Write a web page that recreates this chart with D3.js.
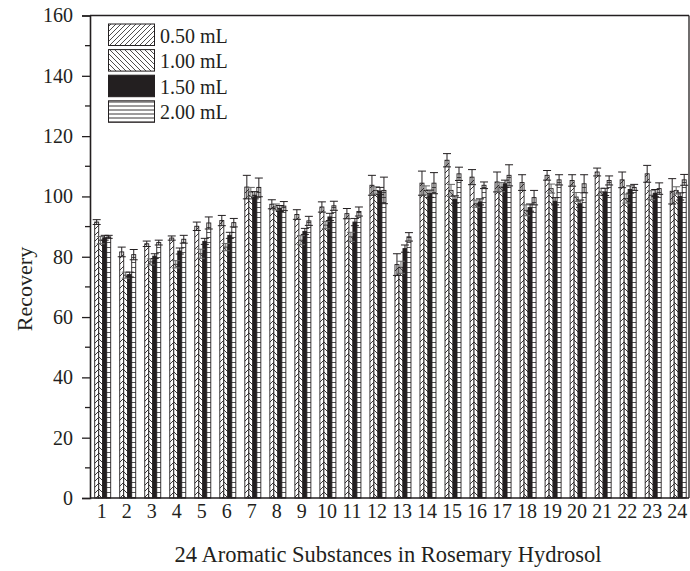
<!DOCTYPE html>
<html>
<head>
<meta charset="utf-8">
<script src="https://cdn.jsdelivr.net/npm/d3@7/dist/d3.min.js"></script>
<style>
  html, body { margin: 0; padding: 0; background: #fff; }
  svg text { font-family: "Liberation Serif", "Times New Roman", serif; fill: #231f20; }
</style>
</head>
<body>
<svg id="chart" width="690" height="571"></svg>
<script>
const categories = d3.range(1, 25).map(String);
const seriesNames = ["0.50 mL", "1.00 mL", "1.50 mL", "2.00 mL"];
const v050 = [91.5, 81.6, 84.3, 86.2, 90.1, 92.0, 103.1, 97.4, 94.0, 96.5, 94.3, 103.7, 77.4, 104.4, 112.0, 106.4, 104.8, 104.6, 107.0, 105.3, 108.1, 105.5, 107.5, 101.7];
const e050 = [0.8, 1.6, 0.9, 0.7, 1.4, 1.7, 3.9, 1.5, 1.6, 1.7, 1.7, 3.3, 3.6, 4.0, 2.2, 2.5, 3.3, 2.6, 1.6, 1.9, 1.3, 2.6, 2.8, 4.2];
const v100 = [85.5, 73.9, 78.3, 77.5, 81.0, 83.2, 101.5, 96.5, 85.5, 90.5, 86.6, 102.0, 76.5, 102.0, 102.0, 97.6, 103.1, 95.4, 102.6, 99.8, 101.5, 99.3, 100.4, 102.0];
const e100 = [1.2, 1.0, 1.0, 1.2, 1.5, 1.2, 1.5, 1.0, 1.5, 1.2, 1.5, 1.2, 2.0, 1.5, 2.0, 1.2, 1.5, 1.8, 1.5, 1.5, 1.2, 1.5, 1.5, 1.2];
const v150 = [86.3, 74.1, 80.2, 81.9, 85.1, 87.1, 100.4, 96.0, 88.4, 93.2, 91.5, 101.8, 82.7, 100.9, 99.0, 98.2, 104.2, 96.3, 98.4, 97.6, 101.5, 102.3, 101.1, 100.0];
const e150 = [0.8, 0.8, 0.8, 1.0, 1.0, 1.0, 1.2, 1.0, 1.0, 1.2, 1.2, 1.2, 1.2, 1.2, 1.2, 1.0, 1.2, 1.2, 1.2, 1.2, 1.2, 1.2, 1.2, 1.2];
const v200 = [86.6, 80.7, 84.7, 85.8, 91.2, 91.3, 103.0, 96.8, 91.9, 96.9, 95.0, 102.0, 86.6, 104.4, 107.5, 103.7, 107.0, 99.6, 105.5, 104.2, 105.3, 103.0, 102.6, 105.5];
const e200 = [0.5, 1.7, 0.8, 1.3, 2.0, 1.4, 3.1, 1.5, 1.5, 1.5, 1.5, 4.4, 1.4, 3.5, 2.2, 1.1, 3.5, 2.4, 1.7, 3.0, 1.5, 1.0, 1.9, 1.8];
const yTicks = [0, 20, 40, 60, 80, 100, 120, 140, 160];
const yTitle = "Recovery";
const xTitle = "24 Aromatic Substances in Rosemary Hydrosol";

(function () {
const values = [v050, v100, v150, v200];
const errors = [e050, e100, e150, e200];
const fills = ["url(#pFwd)", "url(#pBack)", "#231f20", "url(#pHor)"];
const legendFills = ["url(#lFwd)", "url(#lBack)", "#231f20", "url(#lHor)"];

const svg = d3.select("#chart");
const mLeft = 90, mRight = 689, mTop = 15.5, mBottom = 498;

const x = d3.scalePoint().domain(categories).range([102.7, 678.2]);
const xs = d3.scaleBand().domain(seriesNames).range([-8, 8]).padding(0);
const y = d3.scaleLinear().domain([0, 160]).range([mBottom, mTop]);

const defs = svg.append("defs");
function linePattern(id, size, lines, stroke, sw) {
  const p = defs.append("pattern").attr("id", id).attr("patternUnits", "userSpaceOnUse")
    .attr("width", size).attr("height", size);
  p.append("rect").attr("width", size).attr("height", size).attr("fill", "#fff");
  lines.forEach(l => p.append("line").attr("x1", l[0]).attr("y1", l[1]).attr("x2", l[2]).attr("y2", l[3])
    .attr("stroke", stroke).attr("stroke-width", sw));
}
linePattern("pFwd", 6, [[0, 6, 6, 0], [-1, 1, 1, -1], [5, 7, 7, 5]], "#231f20", 0.9);
linePattern("pBack", 6, [[0, 0, 6, 6], [-1, 5, 1, 7], [5, -1, 7, 1]], "#231f20", 0.9);
linePattern("pHor", 5, [[0, 2.5, 5, 2.5]], "#555", 1);
linePattern("lFwd", 5, [[0, 5, 5, 0], [-1, 1, 1, -1], [4, 6, 6, 4]], "#231f20", 0.8);
linePattern("lBack", 5, [[0, 0, 5, 5], [-1, 4, 1, 6], [4, -1, 6, 1]], "#231f20", 0.8);
linePattern("lHor", 4, [[0, 2, 4, 2]], "#231f20", 0.9);

const g = svg.append("g");
seriesNames.forEach((s, si) => {
  g.append("g").selectAll("rect").data(categories).join("rect")
    .attr("x", (c) => x(c) + xs(s))
    .attr("y", (c, i) => y(values[si][i]))
    .attr("width", xs.bandwidth())
    .attr("height", (c, i) => mBottom - y(values[si][i]))
    .attr("fill", fills[si])
    .attr("stroke", "#231f20")
    .attr("stroke-width", 0.9);
});
seriesNames.forEach((s, si) => {
  const eg = g.append("g").attr("stroke", si === 1 ? "#666" : "#231f20").attr("stroke-width", 1);
  categories.forEach((c, i) => {
    const cx = x(c) + xs(s) + xs.bandwidth() / 2;
    const hi = y(values[si][i] + errors[si][i]);
    const lo = y(values[si][i] - errors[si][i]);
    eg.append("line").attr("x1", cx).attr("x2", cx).attr("y1", hi).attr("y2", lo);
    eg.append("line").attr("x1", cx - 4).attr("x2", cx + 4).attr("y1", hi).attr("y2", hi);
    eg.append("line").attr("x1", cx - 4).attr("x2", cx + 4).attr("y1", lo).attr("y2", lo);
  });
});

svg.append("line").attr("x1", mLeft).attr("x2", mRight).attr("y1", mTop).attr("y2", mTop)
  .attr("stroke", "#231f20").attr("stroke-width", 1.3);
svg.append("line").attr("x1", mRight).attr("x2", mRight).attr("y1", mTop).attr("y2", mBottom)
  .attr("stroke", "#231f20").attr("stroke-width", 1.3);

const yAxis = d3.axisLeft(y).tickValues(yTicks).tickSize(8).tickPadding(9).tickFormat(d3.format("d"));
const ya = svg.append("g").attr("transform", `translate(${mLeft},0)`).call(yAxis);
ya.select(".domain").attr("stroke", "#231f20").attr("stroke-width", 1.6);
ya.selectAll(".tick line").attr("stroke", "#231f20").attr("stroke-width", 1.3);
ya.selectAll("text").attr("font-size", 20).attr("font-family", "Liberation Serif").attr("fill", "#231f20");
const minor = d3.range(10, 160, 20);
svg.append("g").selectAll("line").data(minor).join("line")
  .attr("x1", mLeft - 5).attr("x2", mLeft).attr("y1", d => y(d)).attr("y2", d => y(d))
  .attr("stroke", "#231f20").attr("stroke-width", 1.3);

const xAxis = d3.axisBottom(x).tickSize(0).tickPadding(6);
const xa = svg.append("g").attr("transform", `translate(0,${mBottom})`).call(xAxis);
xa.select(".domain").attr("d", `M${mLeft},0H${mRight}`).attr("stroke", "#231f20").attr("stroke-width", 1.6);
xa.selectAll("text").attr("font-size", 20).attr("font-family", "Liberation Serif").attr("fill", "#231f20")
  .attr("dx", -1.5);

svg.append("text").attr("transform", "translate(32,289) rotate(-90)")
  .attr("text-anchor", "middle").attr("font-size", 22).text(yTitle);
svg.append("text").attr("x", 388).attr("y", 562)
  .attr("text-anchor", "middle").attr("font-size", 22.5).text(xTitle);

const lg = svg.append("g");
seriesNames.forEach((s, i) => {
  const yy = 24 + i * 25.6;
  lg.append("rect").attr("x", 108.5).attr("y", yy).attr("width", 46).attr("height", 21.5)
    .attr("fill", legendFills[i]).attr("stroke", "#231f20").attr("stroke-width", 1);
  lg.append("text").attr("x", 160).attr("y", yy + 18.5).attr("font-size", 20).text(s);
});
})();
</script>
</body>
</html>
